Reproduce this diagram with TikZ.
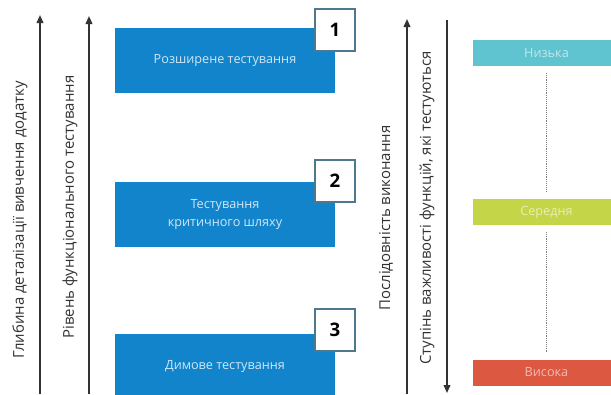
\documentclass[tikz,border=0pt]{standalone}
\usepackage{fontspec}
\setmainfont{Open Sans}
\usetikzlibrary{arrows.meta}
\definecolor{stepblue}{RGB}{18,132,204}
\definecolor{lowcyan}{RGB}{96,196,208}
\definecolor{midlime}{RGB}{196,214,72}
\definecolor{highred}{RGB}{220,88,64}
\definecolor{numedge}{RGB}{80,120,140}
\definecolor{axistext}{RGB}{50,50,50}

\begin{document}
\begin{tikzpicture}[x=0.75pt, y=-0.75pt,
    axislabel/.style={rotate=90, text=axistext, font=\fontsize{11.2}{13}\selectfont},
    axisline/.style={line width=1.2pt, draw=black!80},
    stepbox/.style={fill=stepblue, minimum width=165pt, minimum height=48.75pt, align=center,
      text=white!80!stepblue, font=\fontsize{9.5}{14}\selectfont},
    numbox/.style={draw=numedge, line width=1pt, fill=white, minimum width=30pt, minimum height=31.5pt,
      font=\fontsize{14}{16}\selectfont\bfseries},
    levelbar/.style={minimum width=110pt, minimum height=19.5pt, text=white, text opacity=0.6,
      font=\fontsize{9.5}{12}\selectfont}]
    \useasboundingbox (0,0) rectangle (611,394);

    % Create axes
    \coordinate (depthlow) at (40,394);
    \coordinate (depthhigh) at (40,15);
    \coordinate (levellow) at (89,394);
    \coordinate (levelhigh) at (89,16);
    \coordinate (orderlow) at (407,394);
    \coordinate (orderhigh) at (407,19);
    \coordinate (weighttop) at (447,20);
    \coordinate (weightbottom) at (447,393);

    \draw[axisline, -{Triangle[length=6pt, width=5pt]}] (depthlow) -- (depthhigh);
    \draw[axisline, -{Triangle[length=6pt, width=5pt]}] (levellow) -- (levelhigh);
    \draw[axisline, -{Triangle[length=6pt, width=5pt]}] (orderlow) -- (orderhigh);
    \draw[axisline, -{Triangle[length=6pt, width=5pt]}] (weighttop) -- (weightbottom);

    \node[axislabel] (depth) at (20,220) {Глибина деталізації вивчення додатку};
    \node[axislabel] (level) at (70,207) {Рівень функціонального тестування};
    \node[axislabel] (order) at (386,218) {Послідовність виконання};
    \node[axislabel] (weight) at (427,208) {Ступінь важливості функцій, які тестуються};

    % Create test steps
    \node[stepbox] (wide) at (225,60) {Розширене тестування};
    \node[stepbox] (critical) at (225,214.5) {Тестування\\критичного шляху};
    \node[stepbox] (smoke) at (225,366.5) {Димове тестування};

    \node[numbox] (one) at (335,30) {1};
    \node[numbox] (two) at (335,181) {2};
    \node[numbox] (three) at (335,330) {3};

    % Create importance levels
    \node[levelbar, fill=lowcyan] (low) at (546.5,53) {Низька};
    \node[levelbar, fill=midlime] (mid) at (546.5,212) {Середня};
    \node[levelbar, fill=highred] (high) at (546.5,372.5) {Висока};

    \draw[densely dotted, gray, shorten <=5pt, shorten >=5pt] (low) -- (mid);
    \draw[densely dotted, gray, shorten <=5pt, shorten >=5pt] (mid) -- (high);
\end{tikzpicture}
\end{document}
